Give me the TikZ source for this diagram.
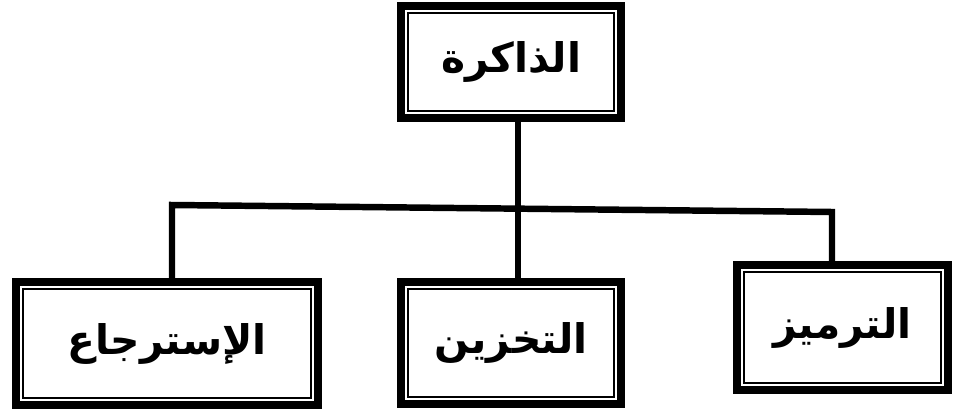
\documentclass[tikz,border=0pt]{standalone}
\usepackage{fontspec}
\newfontfamily\arabicfont[Script=Arabic]{DejaVu Sans}
\TeXXeTstate=1

\tikzset{
  box/.style={draw, line width=5.6pt, outer sep=0pt, inner sep=0pt,
    font=\arabicfont\bfseries\fontsize{29}{34}\selectfont},
  rule/.style={line width=1.4pt},
  link/.style={line width=4.6pt, line join=miter},
}

\begin{document}
\begin{tikzpicture}[x=0.025cm, y=-0.025cm]
  \useasboundingbox (0,0) rectangle (953,411);

  % 箱
  \node[box, minimum width=5.5cm, minimum height=2.8cm] (mem) at (511,62) {\beginR الذاكرة\endR};
  \node[box, minimum width=7.55cm, minimum height=3.075cm] (ret) at (167,343.5) {\beginR الإسترجاع\endR};
  \node[box, minimum width=5.5cm, minimum height=3.05cm] (sto) at (511,343) {\beginR التخزين\endR};
  \node[box, minimum width=5.275cm, minimum height=3.125cm] (enc) at (842.5,327.5) {\beginR الترميز\endR};

  % 内側の細い枠
  \foreach \n in {mem,ret,sto,enc}
    \draw[rule] ([shift={(5pt,5pt)}]\n.south west) rectangle ([shift={(-5pt,-5pt)}]\n.north east);

  % 線
  \coordinate (jc) at (518,208);
  \coordinate (l) at (172,205);
  \coordinate (r) at (832,212);
  \draw[link] (mem.south -| jc) -- (sto.north -| jc);
  \draw[link] (ret.north -| l) -- (l) -- (r) -- (enc.north -| r);
\end{tikzpicture}
\end{document}
